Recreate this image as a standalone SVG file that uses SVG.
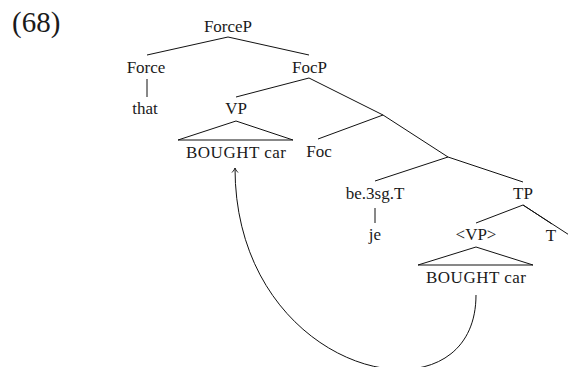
<svg xmlns="http://www.w3.org/2000/svg" width="568" height="367" viewBox="0 0 568 367">
<style>
text{font-family:"Liberation Serif","Times New Roman",serif;font-size:17px;fill:#1a1a1a;text-anchor:middle}
.l{stroke:#111;stroke-width:1;fill:none}
</style>
<defs>
<marker id="arr" markerUnits="userSpaceOnUse" markerWidth="10" markerHeight="10" refX="0" refY="0" viewBox="-6 -5 8 10" orient="auto">
<path d="M-4.5,-3 C-2.5,-1.2 -1,-0.3 0,0 C-1,0.3 -2.5,1.2 -4.5,3" fill="none" stroke="#111" stroke-width="0.9"/>
</marker>
</defs>
<rect width="568" height="367" fill="#fff"/>
<text x="12" y="32" style="font-size:29px;text-anchor:start">(68)</text>
<g id="connectors">
<line class="l" x1="228" y1="37" x2="147" y2="55"/>
<line class="l" x1="228" y1="37" x2="309" y2="55"/>
<line class="l" x1="147" y1="79" x2="147" y2="97"/>
<line class="l" x1="309" y1="78" x2="236" y2="97"/>
<line class="l" x1="309" y1="78" x2="383" y2="115"/>
<line class="l" x1="383" y1="115" x2="318" y2="139"/>
<line class="l" x1="383" y1="115" x2="448" y2="157"/>
<line class="l" x1="448" y1="157" x2="375" y2="181"/>
<line class="l" x1="448" y1="157" x2="523" y2="182"/>
<line class="l" x1="375" y1="208" x2="375" y2="223"/>
<line class="l" x1="523" y1="205" x2="476" y2="223"/>
<line class="l" x1="523" y1="205" x2="552" y2="224"/>
<line class="l" x1="523" y1="205" x2="600" y2="255"/>
<polygon class="l" points="236,121 178,140 293,140"/>
<polygon class="l" points="476,247 418,265 533,265"/>
<path class="l" d="M476,295 C476,430 235,378 235,168" marker-end="url(#arr)"/>
</g>
<g id="n-ForceP"><text x="228" y="32">ForceP</text></g>
<g id="n-Force"><text x="146" y="73">Force</text></g>
<g id="n-that"><text x="145" y="114">that</text></g>
<g id="n-FocP"><text x="309.5" y="73">FocP</text></g>
<g id="n-VP"><text x="236" y="114">VP</text></g>
<g id="n-VPcontent"><text x="236" y="158" textLength="100" lengthAdjust="spacing">BOUGHT car</text></g>
<g id="n-Foc"><text x="319" y="157">Foc</text></g>
<g id="n-be3sgT"><text x="375" y="199">be.3sg.T</text></g>
<g id="n-je"><text x="375" y="240">je</text></g>
<g id="n-TP"><text x="523" y="199">TP</text></g>
<g id="n-VPtrace"><text x="476" y="240">&lt;VP&gt;</text></g>
<g id="n-T"><text x="551" y="241">T</text></g>
<g id="n-VPtrace-content"><text x="476" y="283" textLength="100" lengthAdjust="spacing">BOUGHT car</text></g>
</svg>
